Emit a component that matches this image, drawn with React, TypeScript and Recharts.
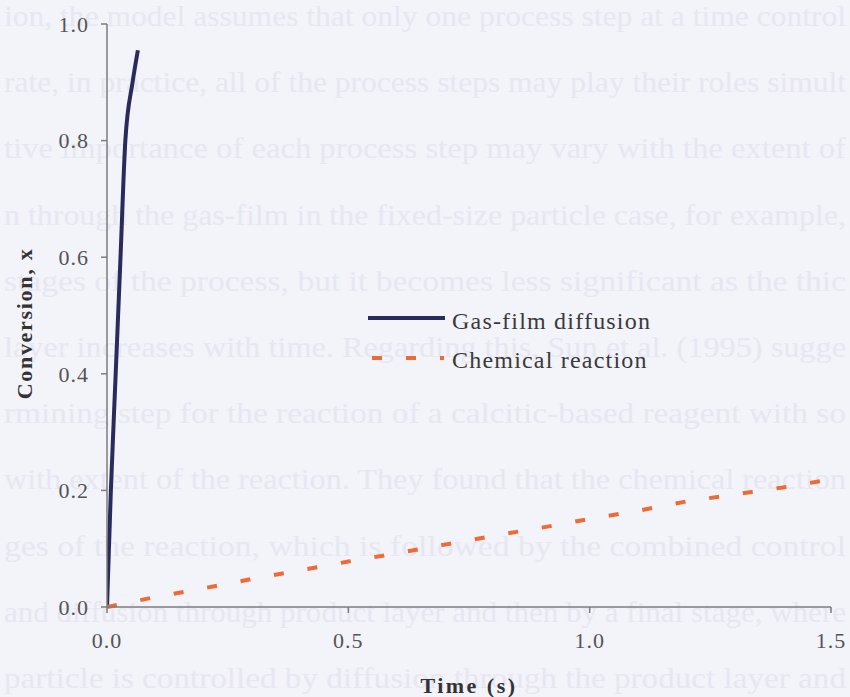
import React from 'react';
import { LineChart, Line, XAxis, YAxis } from 'recharts';

const timeGas = [0, 0.008, 0.018, 0.028, 0.038, 0.053, 0.064];
const convGas = [0, 0.2, 0.4, 0.6, 0.8, 0.9, 0.955];

const timeChem = [0, 0.1, 0.2, 0.3, 0.4, 0.5, 0.6, 0.7, 0.8, 0.9, 1.0, 1.1, 1.2, 1.3, 1.4, 1.5];
const convChem = [0, 0.017, 0.032, 0.048, 0.063, 0.078, 0.092, 0.107, 0.122, 0.136, 0.151, 0.165, 0.181, 0.193, 0.205, 0.219];

const xTicks = [0, 0.5, 1.0, 1.5];
const yTicks = [0, 0.2, 0.4, 0.6, 0.8, 1.0];

const seriesNames = ['Gas-film diffusion', 'Chemical reaction'];
const xLabel = 'Time (s)';
const yLabel = 'Conversion, x';

const bgLines = [
  'ion, the model assumes that only one process step at a time control',
  'rate, in practice, all of the process steps may play their roles simult',
  'tive importance of each process step may vary with the extent of',
  'n through the gas-film in the fixed-size particle case, for example,',
  'stages of the process, but it becomes less significant as the thic',
  'layer increases with time. Regarding this, Sun et al. (1995) sugge',
  'rmining step for the reaction of a calcitic-based reagent with so',
  'with extent of the reaction. They found that the chemical reaction',
  'ges of the reaction, which is followed by the combined control',
  'and diffusion through product layer and then by a final stage, where',
  'particle is controlled by diffusion through the product layer and',
];

const gasData = timeGas.map((t, i) => ({ t, x: convGas[i] }));
const chemData = timeChem.map((t, i) => ({ t, x: convChem[i] }));

const NAVY = '#2a2b5c';
const ORANGE = '#ee6a37';
const AXIS = '#7d7d7d';
const FONT = "'Liberation Serif', 'Times New Roman', serif";

const YLabel = (props: any) => {
  const vb = props.viewBox || { x: 0, y: 0, width: 0, height: 0 };
  const cx = vb.x + 24;
  const cy = vb.y + vb.height / 2 + 8;
  return (
    <text
      x={cx}
      y={cy}
      transform={`rotate(-90 ${cx} ${cy})`}
      textAnchor="middle"
      dominantBaseline="central"
      fontFamily={FONT}
      fontWeight="bold"
      fontSize={22}
      letterSpacing={1.7}
      fill="#333"
    >
      {yLabel}
    </text>
  );
};

export default function App() {
  return (
    <div
      style={{
        position: 'fixed',
        left: 0,
        top: 0,
        width: 850,
        height: 697,
        background: '#f3f3fa',
        overflow: 'hidden',
      }}
    >
      <svg width={850} height={697} style={{ position: 'absolute', left: 0, top: 0 }}>
        {bgLines.map((s, i) => (
          <text
            key={i}
            x={4}
            y={26 + i * 66.2}
            textLength={842}
            lengthAdjust="spacingAndGlyphs"
            fontFamily={FONT}
            fontSize={30}
            fill="#e7e7f1"
          >
            {s}
          </text>
        ))}
      </svg>
      <div style={{ position: 'absolute', left: 0, top: 0 }}>
        <LineChart width={850} height={697} margin={{ top: 24, right: 19, bottom: 0, left: 0 }}>
          <XAxis
            type="number"
            dataKey="t"
            domain={[0, 1.5]}
            ticks={xTicks}
            tickFormatter={(v: number) => v.toFixed(1)}
            height={90}
            tickSize={6}
            tickMargin={19}
            axisLine={{ stroke: AXIS, strokeWidth: 1.5 }}
            tickLine={{ stroke: AXIS, strokeWidth: 1.5 }}
            tick={{ fill: '#555', fontSize: 22, fontFamily: FONT, letterSpacing: 1 }}
            allowDataOverflow
            label={{
              value: xLabel,
              position: 'insideBottom',
              offset: 4,
              style: {
                fontFamily: FONT,
                fontWeight: 'bold',
                fontSize: 22,
                letterSpacing: 2.5,
                fill: '#333',
              },
            }}
          />
          <YAxis
            type="number"
            dataKey="x"
            domain={[0, 1]}
            ticks={yTicks}
            tickFormatter={(v: number) => v.toFixed(1)}
            width={107}
            tickSize={6}
            tickMargin={12}
            axisLine={{ stroke: AXIS, strokeWidth: 1.5 }}
            tickLine={{ stroke: AXIS, strokeWidth: 1.5 }}
            tick={{ fill: '#555', fontSize: 22, fontFamily: FONT, letterSpacing: 1 }}
            label={<YLabel />}
          />
          <Line
            data={gasData}
            dataKey="x"
            name={seriesNames[0]}
            type="monotone"
            stroke={NAVY}
            strokeWidth={4}
            dot={false}
            isAnimationActive={false}
          />
          <Line
            data={chemData}
            dataKey="x"
            name={seriesNames[1]}
            type="linear"
            stroke={ORANGE}
            strokeWidth={4}
            strokeDasharray="10 24"
            dot={false}
            isAnimationActive={false}
          />
        </LineChart>
      </div>
      <svg width={320} height={84} style={{ position: 'absolute', left: 360, top: 296 }}>
        <line x1={8} y1={22} x2={85} y2={22} stroke={NAVY} strokeWidth={4} />
        <text x={92} y={33} fontFamily={FONT} fontSize={24} letterSpacing={1.2} fill="#3a3a3a">
          {seriesNames[0]}
        </text>
        <line x1={12} y1={62} x2={84} y2={62} stroke={ORANGE} strokeWidth={4} strokeDasharray="10 24" />
        <text x={92} y={72} fontFamily={FONT} fontSize={24} letterSpacing={1.2} fill="#3a3a3a">
          {seriesNames[1]}
        </text>
      </svg>
    </div>
  );
}
